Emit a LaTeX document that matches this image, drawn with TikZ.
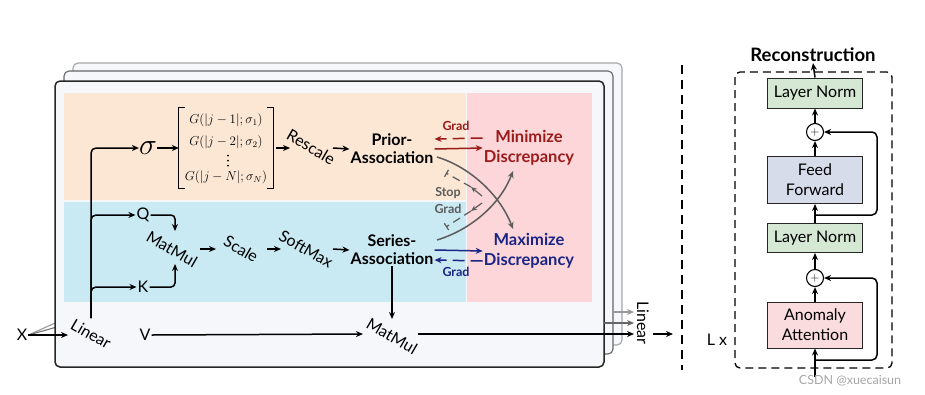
\documentclass[tikz,border=0pt]{standalone}
\usepackage{amsmath}
\usepackage{graphicx}
\usepackage{fontspec}
\setmainfont{Lato}
\usetikzlibrary{arrows.meta,calc}
\definecolor{frfill}{HTML}{F5F7FB}
\definecolor{orgbg}{HTML}{FCE6D4}
\definecolor{blubg}{HTML}{C9E9F3}
\definecolor{pnkbg}{HTML}{FDD6D9}
\definecolor{minred}{HTML}{9B1B1B}
\definecolor{maxblue}{HTML}{1B2585}
\definecolor{sgray}{HTML}{5C5C5C}
\definecolor{lngreen}{HTML}{D5E8D4}
\definecolor{ffblue}{HTML}{D7DCEB}
\definecolor{attpink}{HTML}{FADCDF}
\tikzset{
  tip/.style={-{Stealth[length=7pt,width=6pt]}},
  arr/.style={line width=1.5pt,tip},
  lbl/.style={font=\fontsize{16}{18}\selectfont, inner sep=1pt},
  bld/.style={font=\fontsize{16}{18}\selectfont\bfseries, align=center, inner sep=1pt},
  disc/.style={font=\fontsize{16.5}{20}\selectfont\bfseries, align=center, inner sep=1pt},
  gradlbl/.style={font=\fontsize{12.5}{14}\selectfont\bfseries, inner sep=0pt},
  blk/.style={draw=black!85, line width=1pt, minimum width=95pt, align=center, font=\fontsize{16}{20}\selectfont},
  plus/.style={circle, draw=black, line width=1.1pt, minimum size=17pt, inner sep=0pt, font=\fontsize{12}{12}\selectfont},
  matrow/.style={font=\fontsize{12}{14}\selectfont, inner sep=0pt},
}
\begin{document}
\begin{tikzpicture}[x=1pt,y=-1pt]
\useasboundingbox (0,0) rectangle (925,394);
% stacked frames
\draw[black!35, line width=1.1pt, fill=frfill, rounded corners=5] (73,63) rectangle (622,345);
\draw[black!60, line width=1.1pt, fill=frfill, rounded corners=5] (64,71) rectangle (613,354);
\node[lbl] (X) at (22,335) {X};
\coordinate (f3in) at (73,315);
\coordinate (f2in) at (64,325);
\draw[black!40, line width=1.1pt] (X.east) -- (f3in);
\draw[black!55, line width=1.1pt] (X.east) -- (f2in);
\draw[black!85, line width=1.5pt, fill=frfill, rounded corners=5] (55,81) rectangle (604,367);
% coloured regions
\fill[orgbg] (64,93) rectangle (466,200);
\fill[blubg] (64,202) rectangle (466,302);
\fill[pnkbg] (467,93) rectangle (592,302);

% left chain
\node[lbl, rotate=-30] (lin) at (91,334) {Linear};
\node[lbl] (V) at (145,335) {V};
\node[lbl] (Q) at (143,215) {Q};
\node[lbl] (K) at (143,287) {K};
\node[lbl, rotate=-30] (mm1) at (172,249) {MatMul};
\node[lbl, rotate=-30] (scale) at (241,249) {Scale};
\node[lbl, rotate=-30] (soft) at (306,249) {SoftMax};
\node[bld] (series) at (392,250) {Series-\\Association};
\node[bld] (prior) at (392,149) {Prior-\\Association};
\node[inner sep=0pt, font=\fontsize{12}{12}\selectfont] (sigma) at (148,148) {\scalebox{2.5}{$\sigma$}};
\node[minimum width=94pt, minimum height=80pt, inner sep=0pt] (mat) at (226,148) {};
\node[matrow] (r1) at (226,120) {\scalebox{1.08}{$G(|j-1|;\sigma_1)$}};
\node[matrow] (r2) at (226,142) {\scalebox{1.08}{$G(|j-2|;\sigma_2)$}};
\node[matrow] (r4) at (226,177) {\scalebox{1.08}{$G(|j-N|;\sigma_N)$}};
\fill (228,155.5) circle (1pt) (228,160.5) circle (1pt) (228,165.5) circle (1pt);
\draw[line width=1.1pt] ([xshift=6pt]mat.north west) -- (mat.north west) -- (mat.south west) -- ([xshift=6pt]mat.south west);
\draw[line width=1.1pt] ([xshift=-6pt]mat.north east) -- (mat.north east) -- (mat.south east) -- ([xshift=-6pt]mat.south east);
\node[lbl, rotate=-30] (resc) at (311,147) {Rescale};
\node[disc, text=minred] (min) at (529,148) {Minimize\\Discrepancy};
\node[disc, text=maxblue] (max) at (529,251) {Maximize\\Discrepancy};
\node[lbl, rotate=-30] (mm2) at (392,336) {MatMul};
\node[lbl, rotate=-90] (linR) at (643,323) {Linear};

% coordinates for rotated-text ends
\coordinate (linIn) at (68,335);
\coordinate (trunk) at (91,318);
\coordinate (mmq) at (175,231);
\coordinate (mmk) at (175,264);
\coordinate (qk1) at (200,249);
\coordinate (sc0) at (216,249);
\coordinate (sc1) at (267,249);
\coordinate (sm0) at (281,249);
\coordinate (sm1) at (333,249);
\coordinate (mx0) at (290,148);
\coordinate (mx1) at (276,148);
\coordinate (rs1) at (333,148);
\coordinate (mm2top) at (392,319);
\coordinate (mm2in) at (363,334);
\coordinate (mm2out) at (418,334);
\coordinate (linL1) at (634,334);
\coordinate (linL2) at (634,323);
\coordinate (linL3) at (634,312);
\coordinate (fr1) at (604,323);
\coordinate (fr2) at (613,312);
\coordinate (out0) at (653,334);
\coordinate (out1) at (673,334);

\draw[arr] (X.east) -- (linIn);
\draw[arr] (V.east) -- (mm2in);
\draw[arr, rounded corners=5] (trunk) |- (sigma.west);
\draw[arr, rounded corners=5] (trunk) |- (Q.west);
\draw[arr, rounded corners=5] (trunk) |- (K.west);
\draw[arr, rounded corners=4] (Q.east) -| (mmq);
\draw[arr, rounded corners=4] (K.east) -| (mmk);
\draw[arr] (qk1) -- (sc0);
\draw[arr] (sc1) -- (sm0);
\draw[arr] (sm1) -- (series.west);
\draw[arr] (sigma.east) -- (mat.west);
\draw[arr] (mx1) -- (mx0);
\draw[arr] (rs1) -- (prior.west);
\draw[arr] (series.south) -- (mm2top);
\draw[arr] (mm2out) -- (linL1);
\draw[black!60, line width=1.4pt, tip] (fr1) -- (linL2);
\draw[black!40, line width=1.4pt, tip] (fr2) -- (linL3);
\draw[arr] (out0) -- (out1);

% grad arrows
\draw[minred, arr] (prior.east) -- (min.west);
\draw[minred, line width=1.5pt, dash pattern=on 12pt off 6pt, tip] ([yshift=10pt]min.west) -- ([yshift=10pt]prior.east);
\node[gradlbl, text=minred] (g1) at (456,126) {Grad};
\draw[maxblue, arr] (series.east) -- (max.west);
\draw[maxblue, line width=1.5pt, dash pattern=on 12pt off 6pt, tip] ([yshift=-10pt]max.west) -- ([yshift=-10pt]series.east);
\node[gradlbl, text=maxblue] (g2) at (456,272) {Grad};

% cross curves
\coordinate (c1s) at (437,157);
\coordinate (c1e) at (513,229);
\coordinate (c2s) at (437,240);
\coordinate (c2e) at (513,171);
\draw[sgray, arr] (c1s) .. controls (470,167) and (500,195) .. (c1e);
\draw[sgray, arr] (c2s) .. controls (470,230) and (500,205) .. (c2e);
\coordinate (sg1a) at (482,196);
\coordinate (sg1b) at (471,187);
\coordinate (sg1c) at (446,173);
\coordinate (sg2a) at (482,203);
\coordinate (sg2b) at (471,211);
\coordinate (sg2c) at (446,227);
\draw[sgray, line width=1.2pt, -{Stealth[length=6pt,width=5pt]}] (sg1a) -- (sg1b);
\draw[sgray, line width=1.2pt, dash pattern=on 8pt off 5pt, -{Bar[width=8pt]}] (sg1b) -- (sg1c);
\draw[sgray, line width=1.2pt, -{Stealth[length=6pt,width=5pt]}] (sg2a) -- (sg2b);
\draw[sgray, line width=1.2pt, dash pattern=on 8pt off 5pt, -{Bar[width=8pt]}] (sg2b) -- (sg2c);
\node[gradlbl, text=sgray] (st) at (448,193) {Stop};
\node[gradlbl, text=sgray] (sg) at (448,209) {Grad};

% separator
\coordinate (sepT) at (682,65);
\coordinate (sepB) at (682,370);
\draw[line width=1.5pt, dash pattern=on 9pt off 6pt] (sepT) -- (sepB);

% right panel
\draw[line width=1.3pt, dash pattern=on 8pt off 5pt, rounded corners=5] (735,72) rectangle (892,368);
\node[font=\fontsize{18.5}{20}\selectfont\bfseries, inner sep=1pt] (rec) at (813,55) {Reconstruction};
\node[blk, fill=lngreen, minimum height=30pt] (ln2) at (815,93) {Layer Norm};
\node[plus] (p2) at (815,132) {$+$};
\node[blk, fill=ffblue, minimum height=47pt] (ff) at (815,180) {Feed\\Forward};
\node[blk, fill=lngreen, minimum height=29pt] (ln1) at (815,238) {Layer Norm};
\node[plus] (p1) at (815,278) {$+$};
\node[blk, fill=attpink, minimum height=46pt] (att) at (815,325) {Anomaly\\Attention};
\node[lbl] (Lx) at (717,340) {L x};
\coordinate (in) at (815,377);
\coordinate (res1) at (815,360);
\coordinate (res1x) at (877,278);
\coordinate (res2) at (815,215);
\coordinate (res2x) at (877,132);
\draw[arr] (in) -- (att.south);
\draw[arr] (att.north) -- (p1.south);
\draw[arr] (p1.north) -- (ln1.south);
\draw[arr] (ln1.north) -- (ff.south);
\draw[arr] (ff.north) -- (p2.south);
\draw[arr] (p2.north) -- (ln2.south);
\draw[arr] (ln2.north) -- (rec.south);
\draw[arr, rounded corners=5] (res1) -| (res1x) -- (p1.east);
\draw[arr, rounded corners=5] (res2) -| (res2x) -- (p2.east);
\node[font=\fontsize{12.5}{14}\selectfont, text=black!35] (wm) at (850,381) {CSDN @xuecaisun};
\end{tikzpicture}
\end{document}
